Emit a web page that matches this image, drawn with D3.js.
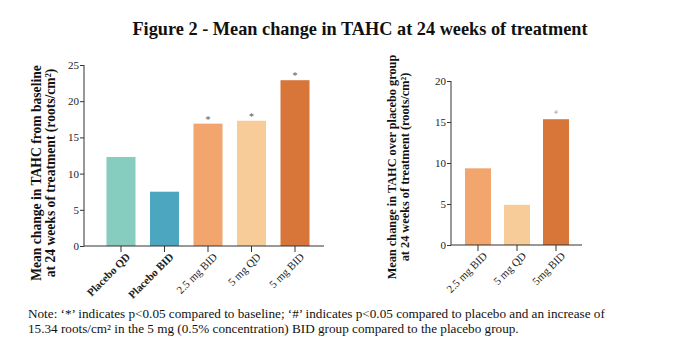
<!DOCTYPE html>
<html>
<head>
<meta charset="utf-8">
<script src="https://cdn.jsdelivr.net/npm/d3@7"></script>
<style>
  body { margin: 0; background: #fff; }
  .axis path, .axis line { stroke: #333; }
</style>
</head>
<body>
<svg id="chart" width="680" height="343"></svg>
<script>
const leftCats = ['Placebo QD', 'Placebo BID', '2.5 mg BID', '5 mg QD', '5 mg BID'];
const leftVals = [12.3, 7.5, 16.9, 17.3, 22.9];
const leftColors = ['#86cdbf', '#4ca6c0', '#f2a56d', '#f8cc98', '#d8763a'];
const leftSig = ['', '', '*', '*', '*'];
const leftTicks = [0, 5, 10, 15, 20, 25];

const rightCats = ['2.5 mg BID', '5 mg QD', '5mg BID'];
const rightVals = [9.35, 4.9, 15.34];
const rightColors = ['#f2a56d', '#f8cc98', '#d8763a'];
const rightSig = ['', '', '#'];
const rightTicks = [0, 5, 10, 15, 20];

const serif = "'Liberation Serif', 'Times New Roman', serif";
const svg = d3.select('#chart');

svg.append('rect').attr('width', 680).attr('height', 343).attr('fill', '#fff');

svg.append('text')
  .attr('x', 360)
  .attr('y', 35)
  .attr('text-anchor', 'middle')
  .style('font-family', serif)
  .attr('font-size', 18.3)
  .attr('font-weight', 'bold')
  .attr('fill', '#111')
  .text('Figure 2 - Mean change in TAHC at 24 weeks of treatment');

function drawPanel(cfg) {
  const g = svg.append('g');

  const x = d3.scaleBand()
    .domain(cfg.cats)
    .range(cfg.xRange)
    .paddingInner(0.333)
    .paddingOuter(0.333);

  const y = d3.scaleLinear()
    .domain(cfg.yDomain)
    .range(cfg.yRange);

  // bars
  g.selectAll('rect.bar')
    .data(cfg.vals)
    .enter()
    .append('rect')
    .attr('class', 'bar')
    .attr('x', (d, i) => x(cfg.cats[i]))
    .attr('y', d => y(d))
    .attr('width', x.bandwidth())
    .attr('height', d => y(0) - y(d))
    .attr('fill', (d, i) => cfg.colors[i]);

  // significance marks
  g.selectAll('text.sig')
    .data(cfg.vals)
    .enter()
    .append('text')
    .attr('class', 'sig')
    .attr('x', (d, i) => x(cfg.cats[i]) + x.bandwidth() / 2)
    .attr('y', d => y(d) + cfg.sigDy)
    .attr('text-anchor', 'middle')
    .style('font-family', serif)
    .attr('font-size', cfg.sigSize)
    .attr('fill', cfg.sigColor)
    .text((d, i) => cfg.sig[i]);

  // y axis
  const yAxis = g.append('g')
    .attr('class', 'axis')
    .attr('transform', `translate(${cfg.axisX}, 0)`)
    .call(d3.axisLeft(y).tickValues(cfg.ticks).tickSize(4).tickSizeOuter(0).tickPadding(1));
  yAxis.select('.domain').attr('d', `M0,${cfg.yRange[0]}V${cfg.yRange[1]}`);
  yAxis.selectAll('.tick text')
    .style('font-family', serif)
    .attr('font-size', 11)
    .attr('fill', '#222');

  // x axis
  const xAxis = g.append('g')
    .attr('class', 'axis')
    .attr('transform', `translate(0, ${cfg.yRange[0]})`)
    .call(d3.axisBottom(x).tickSize(6).tickSizeOuter(0));
  xAxis.select('.domain').attr('d', `M${cfg.axisX},0H${cfg.xRange[1]}`);
  xAxis.selectAll('.tick text')
    .style('font-family', serif)
    .attr('font-size', 11)
    .attr('fill', '#222')
    .attr('text-anchor', 'end')
    .attr('dx', '-0.1em')
    .attr('dy', '0.2em')
    .attr('transform', 'rotate(-45) translate(0, 4)')
    .attr('font-weight', d => d.startsWith('Placebo') ? 'bold' : 'normal');

  // y label
  const label = g.append('text')
    .attr('transform', `translate(${cfg.labelX}, ${cfg.labelY}) rotate(-90)`)
    .attr('text-anchor', 'middle')
    .style('font-family', serif)
    .attr('font-size', cfg.labelSize)
    .attr('font-weight', 'bold')
    .attr('fill', '#111');
  cfg.label.forEach((t, i) => {
    label.append('tspan')
      .attr('x', 0)
      .attr('dy', i === 0 ? 0 : cfg.lineGap)
      .text(t);
  });
}

drawPanel({
  cats: leftCats, vals: leftVals, colors: leftColors, sig: leftSig, ticks: leftTicks,
  xRange: [92, 324], yDomain: [0, 25], yRange: [246, 65], axisX: 84,
  sigDy: -1, sigSize: 10, sigColor: '#555',
  labelX: 41, labelY: 173, lineGap: 14, labelSize: 13.6,
  label: ['Mean change in TAHC from baseline', 'at 24 weeks of treatment (roots/cm²)']
});

drawPanel({
  cats: rightCats, vals: rightVals, colors: rightColors, sig: rightSig, ticks: rightTicks,
  xRange: [452, 582], yDomain: [0, 20], yRange: [245, 81], axisX: 451,
  sigDy: -5, sigSize: 7, sigColor: '#999',
  labelX: 396, labelY: 167, lineGap: 12.5, labelSize: 12.3,
  label: ['Mean change in TAHC over placebo group', 'at 24 weeks of treatment (roots/cm²)']
});

const note = svg.append('text')
  .style('font-family', serif)
  .attr('font-size', 13.2)
  .attr('fill', '#111');
note.append('tspan')
  .attr('x', 28).attr('y', 318)
  .text('Note: ‘*’ indicates p<0.05 compared to baseline; ‘#’ indicates p<0.05 compared to placebo and an increase of');
note.append('tspan')
  .attr('x', 28).attr('y', 333)
  .text('15.34 roots/cm² in the 5 mg (0.5% concentration) BID group compared to the placebo group.');
</script>
</body>
</html>
